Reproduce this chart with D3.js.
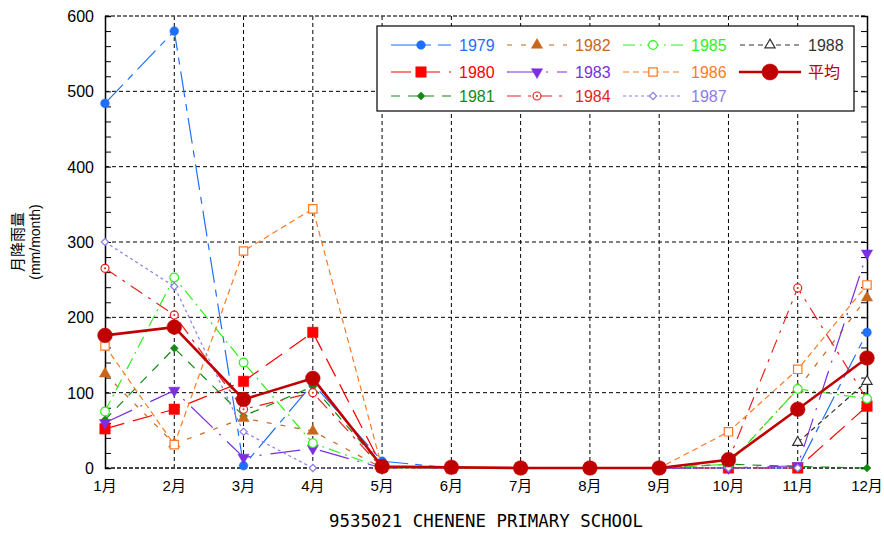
<!DOCTYPE html>
<html>
<head>
<meta charset="utf-8">
<script src="https://cdn.jsdelivr.net/npm/d3@7"></script>
<style>
  html, body { margin: 0; padding: 0; background: #fff; }
  svg { display: block; }
  text { font-family: "Liberation Sans", Arial, "Noto Sans CJK JP", sans-serif; }
</style>
</head>
<body>
<svg id="chart" width="884" height="536"></svg>
<script>
// Monthly rainfall (mm/month), station 9535021
const months = ["1月","2月","3月","4月","5月","6月","7月","8月","9月","10月","11月","12月"];
const yTicks = [0, 100, 200, 300, 400, 500, 600];

const y1979 = [484, 580, 3, 112, 9, 0, 0, 0, 0, 0, 0, 180];
const y1980 = [52, 78, 115, 180, 2, 0, 0, 0, 0, 0, 0, 82];
const y1981 = [64, 159, 69, 108, 2, 0, 0, 0, 0, 5, 2, 0];
const y1982 = [125, 32, 66, 49, 0, 0, 0, 0, 0, 5, 105, 226];
const y1983 = [60, 103, 14, 26, 0, 0, 0, 0, 0, 0, 3, 285];
const y1984 = [265, 203, 78, 100, 0, 0, 0, 0, 0, 10, 239, 91];
const y1985 = [75, 253, 140, 33, 0, 0, 0, 0, 0, 5, 105, 92];
const y1986 = [162, 31, 288, 344, 0, 0, 0, 0, 0, 48, 131, 243];
const y1987 = [300, 241, 48, 0, 0, 0, 0, 0, 0, 0, 0, null];
const y1988 = [null, null, null, null, null, null, null, null, null, null, 34, 115];
const yMean = [176, 187, 91, 119, 2, 1, 0, 0, 0, 11, 78, 146];

const series = [
  { name: "1979", values: y1979, color: "#1f6fff", dash: "26,7,7,7", sym: "circle",   fill: true,  size: 60 },
  { name: "1980", values: y1980, color: "#ff0000", dash: "20,9",       sym: "square",   fill: true,  size: 110 },
  { name: "1981", values: y1981, color: "#138a13", dash: "9,8",        sym: "diamond",  fill: true,  size: 32 },
  { name: "1982", values: y1982, color: "#c8661c", dash: "5,9",        sym: "triangle", fill: true,  size: 55 },
  { name: "1983", values: y1983, color: "#7b2fe0", dash: "30,9,2,9",   sym: "tridown",  fill: true,  size: 55 },
  { name: "1984", values: y1984, color: "#e8231f", dash: "14,7,3,7",   sym: "circle",   fill: false, size: 50, dot: true },
  { name: "1985", values: y1985, color: "#33ee22", dash: "12,5,2,5",   sym: "circle",   fill: false, size: 60 },
  { name: "1986", values: y1986, color: "#ff7a24", dash: "6,4",        sym: "square",   fill: false, size: 70 },
  { name: "1987", values: y1987, color: "#8a7de6", dash: "3,3",        sym: "diamond",  fill: false, size: 26 },
  { name: "1988", values: y1988, color: "#333333", dash: "5,4",        sym: "triangle", fill: false, size: 45 },
  { name: "平均", values: yMean, color: "#c00000", dash: null,          sym: "circle",   fill: true,  size: 170, width: 2.6 }
];

const plotL = 105, plotR = 867, plotT = 16, plotB = 468;

const svg = d3.select("#chart");
const x = d3.scalePoint().domain(months).range([plotL, plotR]);
const y = d3.scaleLinear().domain([0, 600]).range([plotB, plotT]);

// diamond = square turned 45 degrees
const symTypes = {
  circle: d3.symbolCircle, square: d3.symbolSquare, diamond: d3.symbolSquare,
  triangle: d3.symbolTriangle, tridown: d3.symbolTriangle
};
const symRotate = { diamond: 45, tridown: 180 };

// grid lines
const grid = svg.append("g");
grid.selectAll("line.h").data(yTicks.filter(v => v > 0 && v < 600)).join("line")
  .attr("x1", plotL).attr("x2", plotR)
  .attr("y1", d => y(d)).attr("y2", d => y(d))
  .attr("stroke", "#000").attr("stroke-width", 1).attr("stroke-dasharray", "4,3");
grid.selectAll("line.v").data(months.slice(1, -1)).join("line")
  .attr("x1", d => x(d)).attr("x2", d => x(d))
  .attr("y1", plotT).attr("y2", plotB)
  .attr("stroke", "#000").attr("stroke-width", 1).attr("stroke-dasharray", "4,3");

// top and bottom frame lines
svg.append("line").attr("x1", plotL).attr("x2", plotR).attr("y1", plotT).attr("y2", plotT)
  .attr("stroke", "#444").attr("stroke-width", 1.5).attr("stroke-dasharray", "4,2");
svg.append("line").attr("x1", plotL).attr("x2", plotR).attr("y1", plotB).attr("y2", plotB)
  .attr("stroke", "#444").attr("stroke-width", 2).attr("stroke-dasharray", "4,2");

// left and right axes, minor ticks every 20 pointing inward
const minor = d3.range(0, 601, 20);
const axL = svg.append("g").attr("transform", `translate(${plotL},0)`)
  .call(d3.axisRight(y).tickValues(minor).tickSize(6).tickFormat(""));
const axR = svg.append("g").attr("transform", `translate(${plotR},0)`)
  .call(d3.axisLeft(y).tickValues(minor).tickSize(6).tickFormat(""));
[axL, axR].forEach(a => {
  a.select(".domain").attr("stroke", "#000").attr("stroke-width", 1.5);
  a.selectAll(".tick line").attr("stroke", "#000").attr("stroke-width", 1);
});

// y tick labels
svg.append("g").selectAll("text").data(yTicks).join("text")
  .attr("x", plotL - 11).attr("y", d => y(d) + 6)
  .attr("text-anchor", "end").attr("font-size", 16).attr("fill", "#000")
  .text(d => d);

// x tick labels
svg.append("g").selectAll("text").data(months).join("text")
  .attr("x", d => x(d)).attr("y", 491)
  .attr("text-anchor", "middle").attr("font-size", 15).attr("fill", "#000")
  .text(d => d);

// axis titles
const yt = svg.append("g").attr("transform", "translate(0,242) rotate(-90)");
yt.append("text").attr("x", 0).attr("y", 23).attr("text-anchor", "middle")
  .attr("font-size", 15).attr("fill", "#000").text("月降雨量");
yt.append("text").attr("x", 0).attr("y", 40).attr("text-anchor", "middle")
  .attr("font-size", 14).attr("fill", "#000").text("(mm/month)");

svg.append("text").attr("x", 486).attr("y", 527).attr("text-anchor", "middle")
  .style("font-family", "'DejaVu Sans Mono', monospace").attr("font-size", 17)
  .attr("textLength", 314).attr("lengthAdjust", "spacingAndGlyphs")
  .attr("fill", "#000").text("9535021 CHENENE PRIMARY SCHOOL");

function drawMarker(g, s, cx, cy, scale) {
  const sz = s.size * (scale || 1);
  const rot = symRotate[s.sym];
  g.append("path")
    .attr("d", d3.symbol().type(symTypes[s.sym]).size(sz)())
    .attr("transform", `translate(${cx},${cy})` + (rot ? ` rotate(${rot})` : ""))
    .attr("fill", s.fill ? s.color : "#fff")
    .attr("stroke", s.color).attr("stroke-width", s.fill ? 0.5 : 1.2);
  if (s.dot) {
    g.append("circle").attr("cx", cx).attr("cy", cy).attr("r", 1).attr("fill", s.color);
  }
}

// series lines and markers
const line = d3.line()
  .defined(d => d.v != null)
  .x(d => x(d.m)).y(d => y(d.v));

const plot = svg.append("g");
series.forEach(s => {
  const pts = s.values.map((v, i) => ({ m: months[i], v }));
  plot.append("path").datum(pts)
    .attr("d", line).attr("fill", "none")
    .attr("stroke", s.color).attr("stroke-width", s.width || 1.2)
    .attr("stroke-dasharray", s.dash);
  const mg = plot.append("g");
  pts.filter(d => d.v != null).forEach(d => drawMarker(mg, s, x(d.m), y(d.v)));
});

// legend
const lg = svg.append("g");
lg.append("rect").attr("x", 377).attr("y", 26).attr("width", 477).attr("height", 85)
  .attr("fill", "#fff").attr("stroke", "#000").attr("stroke-width", 1.2);
const colX = [421, 537, 653, 770];
const rowY = [45, 72, 96];
const layout = [
  [0, 0], [0, 1], [0, 2],
  [1, 0], [1, 1], [1, 2],
  [2, 0], [2, 1], [2, 2],
  [3, 0], [3, 1]
];
series.forEach((s, i) => {
  const [c, r] = layout[i];
  const cx = colX[c], cy = rowY[r];
  const half = s.name === "平均" ? 31 : 30;
  lg.append("line").attr("x1", cx - half).attr("x2", cx + half)
    .attr("y1", cy).attr("y2", cy)
    .attr("stroke", s.color).attr("stroke-width", s.width || 1.2)
    .attr("stroke-dasharray", s.dash);
  drawMarker(lg, s, cx, cy, s.name === "平均" ? 1.2 : 1);
  lg.append("text").attr("x", cx + 38).attr("y", cy + 6)
    .attr("font-size", 16).attr("fill", s.color).text(s.name);
});
</script>
</body>
</html>
